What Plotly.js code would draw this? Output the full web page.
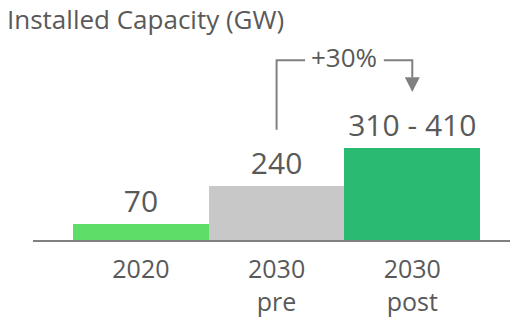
<!DOCTYPE html>
<html>
<head>
<meta charset="utf-8">
<script src="https://cdn.plot.ly/plotly-3.0.1.min.js"></script>
<style>html,body{margin:0;padding:0;background:#fff;}#chart{width:525px;height:322px;}</style>
</head>
<body>
<div id="chart"></div>
<script>
const categories = ['2020', '2030<br>pre', '2030<br>post'];
const values = [70, 240, 410];
const valueLabels = ['70', '240', '310 - 410'];
const barColors = ['#5fdd69', '#c8c8c8', '#2aba72'];
const growthLabel = '+30%';
const titleText = 'Installed Capacity (GW)';

const FONT = '"Open Sans", sans-serif';
const TXT = '#595959';
const LINE = '#808080';

// bracket geometry relative to categories 1 and 2 (data units)
const xFrom = 1, xTo = 2;
const yBase = values[1] * 2.04;
const yTop = values[2] * 1.95;
const yTip = values[2] * 1.605;
const yHead = values[2] * 1.765;
const gapL = 0.21, gapR = 0.21, headHalf = 0.055;

const trace = {
  type: 'bar',
  x: categories,
  y: values,
  text: valueLabels,
  textposition: 'outside',
  cliponaxis: false,
  textfont: {family: FONT, size: 30, color: TXT},
  marker: {color: barColors, line: {width: 0}},
  hoverinfo: 'skip'
};

const layout = {
  width: 525, height: 322,
  margin: {l: 33, r: 15, t: 40, b: 81.5},
  paper_bgcolor: '#fff', plot_bgcolor: '#fff',
  showlegend: false,
  bargap: 0,
  font: {family: FONT, color: TXT},
  title: {
    text: titleText,
    font: {family: FONT, size: 26, color: TXT},
    x: 7 / 525, xref: 'container', xanchor: 'left',
    y: 1 - 20 / 322, yref: 'container', yanchor: 'middle'
  },
  xaxis: {
    type: 'category',
    range: [-0.795, 2.72],
    showline: true, linecolor: LINE, linewidth: 2,
    showgrid: false, zeroline: false, ticks: '',
    ticklabelstandoff: 6,
    tickfont: {family: FONT, size: 25, color: TXT},
    fixedrange: true
  },
  yaxis: {
    range: [0, 889],
    visible: false, showgrid: false, zeroline: false, fixedrange: true
  },
  shapes: [
    {type: 'path', xref: 'x', yref: 'y',
     path: `M ${xFrom} ${yBase} L ${xFrom} ${yTop} L ${xFrom + gapL} ${yTop}`,
     line: {color: LINE, width: 2}},
    {type: 'path', xref: 'x', yref: 'y',
     path: `M ${xTo - gapR} ${yTop} L ${xTo} ${yTop} L ${xTo} ${yHead}`,
     line: {color: LINE, width: 2}},
    {type: 'path', xref: 'x', yref: 'y',
     path: `M ${xTo - headHalf} ${yHead} L ${xTo + headHalf} ${yHead} L ${xTo} ${yTip} Z`,
     fillcolor: LINE, line: {color: LINE, width: 0}}
  ],
  annotations: [
    {xref: 'x', yref: 'y', x: (xFrom + xTo) / 2, y: yTop, text: growthLabel,
     showarrow: false, yanchor: 'middle', yshift: 3,
     font: {family: FONT, size: 26, color: TXT}}
  ]
};

Plotly.newPlot('chart', [trace], layout, {displayModeBar: false, staticPlot: true});
</script>
</body>
</html>
